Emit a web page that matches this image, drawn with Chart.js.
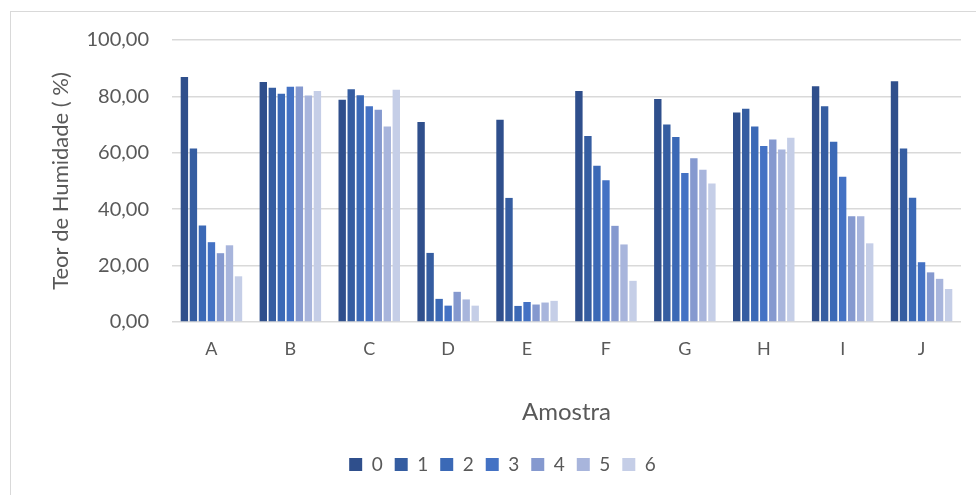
<!DOCTYPE html>
<html>
<head>
<meta charset="utf-8">
<script src="https://cdn.jsdelivr.net/npm/chart.js@4/dist/chart.umd.min.js"></script>
<style>
  html, body { margin: 0; padding: 0; background: #ffffff; }
  #frame {
    position: absolute; left: 10px; top: 11px; width: 980px; height: 500px;
    border-top: 1px solid #D9D9D9; border-left: 1px solid #D9D9D9;
  }
  #wrap { position: absolute; left: 0; top: 0; width: 976px; height: 495px; }
</style>
</head>
<body>
<div id="frame"></div>
<div id="wrap"><canvas id="chart" width="976" height="495"></canvas></div>
<script>
// Amostras (categorias do eixo X)
const categories = ['A', 'B', 'C', 'D', 'E', 'F', 'G', 'H', 'I', 'J'];

// Séries 0 a 6 — teor de humidade (%) por amostra
const serie0 = [86.9, 85.1, 78.8, 70.9, 71.7, 81.9, 79.1, 74.3, 83.6, 85.4];
const serie1 = [61.5, 83.1, 82.5, 24.5, 44.0, 66.0, 70.0, 75.6, 76.5, 61.5];
const serie2 = [34.2, 80.9, 80.4, 8.2, 5.7, 55.4, 65.6, 69.3, 63.9, 44.1];
const serie3 = [28.3, 83.4, 76.5, 5.8, 7.1, 50.3, 52.8, 62.4, 51.5, 21.2];
const serie4 = [24.4, 83.5, 75.3, 10.7, 6.2, 34.1, 58.1, 64.7, 37.5, 17.6];
const serie5 = [27.2, 80.3, 69.3, 8.0, 6.9, 27.5, 54.0, 61.2, 37.5, 15.3];
const serie6 = [16.2, 81.9, 82.4, 5.8, 7.5, 14.6, 49.1, 65.3, 27.9, 11.7];

const seriesLabels = ['0', '1', '2', '3', '4', '5', '6'];
const seriesValues = [serie0, serie1, serie2, serie3, serie4, serie5, serie6];
const seriesColors = ['#2F4F8C', '#355DA1', '#3B69B6', '#4472C4', '#8599CF', '#A8B5DC', '#C5CEE7'];

// Rótulos do eixo Y
const yMin = 0, yMax = 100, yStep = 20;

const textColor = '#595959';
const fontFamily = 'Lato, "Open Sans", sans-serif';

const datasets = seriesLabels.map((lbl, i) => ({
  label: lbl,
  data: seriesValues[i],
  backgroundColor: seriesColors[i],
  borderWidth: 0,
  barPercentage: 0.82,
  categoryPercentage: 0.8
}));

new Chart(document.getElementById('chart'), {
  type: 'bar',
  data: { labels: categories, datasets },
  options: {
    responsive: false,
    animation: false,
    layout: { padding: { left: 44, right: 15, top: 40, bottom: 11 } },
    plugins: {
      tooltip: { enabled: false },
      legend: {
        position: 'bottom',
        labels: {
          boxWidth: 13,
          boxHeight: 13,
          padding: 12,
          color: textColor,
          font: { family: fontFamily, size: 19 }
        }
      }
    },
    scales: {
      x: {
        grid: { display: false },
        border: { display: false },
        ticks: { color: textColor, font: { family: fontFamily, size: 18 }, padding: 8 },
        title: {
          display: true, text: 'Amostra', color: textColor,
          font: { family: fontFamily, size: 24 },
          padding: { top: 4, bottom: 16 }
        },
        afterFit: (scale) => { scale.height = 121; }
      },
      y: {
        min: yMin, max: yMax,
        grid: { color: '#D9D9D9', lineWidth: 1.5, drawTicks: false },
        border: { display: false },
        ticks: {
          stepSize: yStep,
          color: textColor,
          padding: 23,
          font: { family: fontFamily, size: 20 },
          callback: (v) => v.toFixed(2).replace('.', ',')
        },
        title: {
          display: true, text: 'Teor de Humidade ( %)', color: textColor,
          font: { family: fontFamily, size: 22 },
          padding: { top: 4, bottom: 4 }
        },
        afterFit: (scale) => { scale.width = 128; }
      }
    }
  }
});
</script>
</body>
</html>
